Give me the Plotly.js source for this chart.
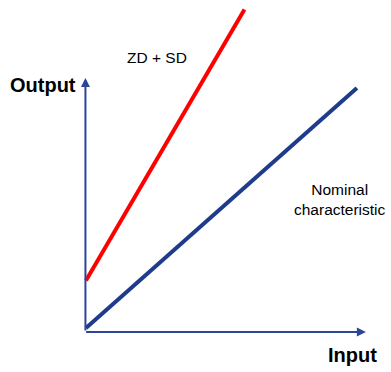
<!DOCTYPE html>
<html>
<head>
<meta charset="utf-8">
<script src="https://cdn.plot.ly/plotly-3.0.1.min.js"></script>
<style>html,body{margin:0;padding:0;background:#fff;}#chart{width:391px;height:372px;}</style>
</head>
<body>
<div id="chart"></div>
<script>
// Schematic characteristic lines (arbitrary units)
const nominalInput = [0, 10];
const nominalOutput = [0.15, 9.0];
const driftInput = [0, 5.85];
const driftOutput = [1.9, 11.9];
const axisEnd = {x: 10.33, y: 9.37};
const labels = {
  output: "Output",
  input: "Input",
  drift: "ZD + SD",
  nominal: "Nominal<br>characteristic"
};

const axisColor = "#2B4598";
const traces = [
  {x: nominalInput, y: nominalOutput, mode: "lines", line: {color: "#1F3C8C", width: 4}, hoverinfo: "skip"},
  {x: driftInput, y: driftOutput, mode: "lines", line: {color: "#FF0000", width: 4}, hoverinfo: "skip"}
];

const font = {family: "Liberation Sans, Arial, sans-serif", color: "#000"};
const L = 83, R = 7, B = 40;
const layout = {
  width: 391, height: 372,
  margin: {l: L, r: R, t: 0, b: B},
  showlegend: false,
  paper_bgcolor: "#fff", plot_bgcolor: "#fff",
  xaxis: {range: [-0.11, 11], showgrid: false, zeroline: false, showticklabels: false, showline: false, ticks: "", fixedrange: true},
  yaxis: {range: [0, 12.25], showgrid: false, zeroline: false, showticklabels: false, showline: false, ticks: "", fixedrange: true},
  annotations: [
    {x: axisEnd.x, y: 0, ax: -0.05, ay: 0, xref: "x", yref: "y", axref: "x", ayref: "y", showarrow: true, arrowhead: 2, arrowsize: 0.9, arrowwidth: 2, arrowcolor: axisColor, text: ""},
    {x: -0.02, y: axisEnd.y, ax: -0.02, ay: 0, xref: "x", yref: "y", axref: "x", ayref: "y", showarrow: true, arrowhead: 2, arrowsize: 0.9, arrowwidth: 2, arrowcolor: axisColor, text: ""},
    {x: 43, y: 85, text: "<b>" + labels.output + "</b>", showarrow: false, font: Object.assign({size: 20}, font)},
    {x: 352, y: 355, text: "<b>" + labels.input + "</b>", showarrow: false, font: Object.assign({size: 20}, font)},
    {x: 157, y: 57, text: labels.drift, showarrow: false, font: Object.assign({size: 15.5}, font)},
    {x: 340, y: 199, text: labels.nominal, showarrow: false, font: Object.assign({size: 15.5}, font)}
  ]
};
// Convert pixel-positioned text labels to paper coordinates
const pw = 391 - L - R, ph = 372 - B;
layout.annotations.slice(2).forEach(a => {
  a.xref = "paper"; a.yref = "paper";
  a.xanchor = "center"; a.yanchor = "middle";
  a.x = (a.x - L) / pw;
  a.y = (332 - a.y) / ph;
});
Plotly.newPlot("chart", traces, layout, {staticPlot: true, displayModeBar: false});
</script>
</body>
</html>
